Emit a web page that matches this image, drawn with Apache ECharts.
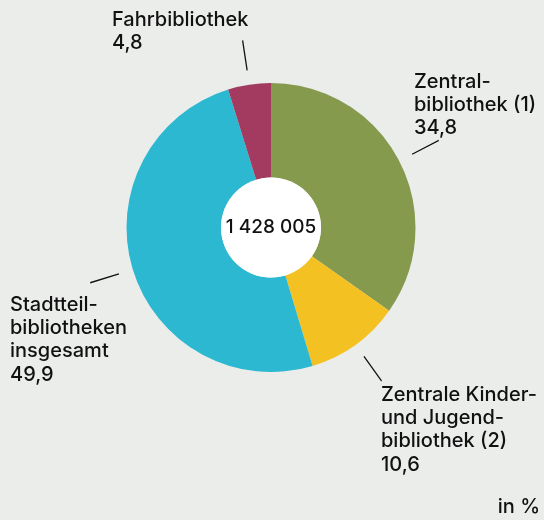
<!DOCTYPE html>
<html><head><meta charset="utf-8">
<script src="https://cdn.jsdelivr.net/npm/echarts@6/dist/echarts.min.js"></script>
<style>html,body{margin:0;padding:0;background:#ebedeb;}#c{width:544px;height:520px;}</style>
</head><body><div id="c"></div>
<script>
// ---- data ----
const categories = ['Zentral-\nbibliothek (1)', 'Zentrale Kinder-\nund Jugend-\nbibliothek (2)', 'Stadtteil-\nbibliotheken\ninsgesamt', 'Fahrbibliothek'];
const shares = [34.8, 10.6, 49.9, 4.8];
const totalText = '1 428 005';
const unitText = 'in %';

// ---- styling / layout ----
const colors = ['#869a4e', '#f4c122', '#2db8d1', '#a33a5f'];
const labelAnchors = [[414, 70], [381, 383], [10, 293], [112, 8]];
const FONT = 'Inter, "Liberation Sans", Arial, sans-serif';
const FS = 20, LH = 23.3, FW = 500;
const center = [271, 227.5];

const fmt = v => v.toFixed(1).replace('.', ',');
const pieData = categories.map((c, i) => ({ name: c, value: shares[i], itemStyle: { color: colors[i] } }));

const chart = echarts.init(document.getElementById('c'), null, { renderer: 'canvas' });
chart.setOption({
  backgroundColor: '#ebedeb',
  animation: false,
  series: [
    {
      type: 'pie', center: center, radius: [0, 159], startAngle: 90, clockwise: true,
      silent: true, avoidLabelOverlap: false, z: 1,
      data: categories.map((c, i) => ({ name: c, value: shares[i] })),
      itemStyle: { color: 'rgba(0,0,0,0)', borderWidth: 0 },
      label: { show: true, formatter: ' ', fontSize: 1 },
      labelLine: { show: true, length: 30, length2: 0.01, lineStyle: { color: '#111', width: 1.3 } },
      emphasis: { disabled: true }
    },
    {
      type: 'pie', center: center, radius: [50, 144.5], startAngle: 90, clockwise: true,
      silent: true, z: 2,
      data: pieData,
      itemStyle: { borderWidth: 0 },
      label: { show: false }, labelLine: { show: false },
      emphasis: { disabled: true }
    },
    {
      type: 'pie', center: center, radius: [0, 50], silent: true, z: 3,
      data: [{ name: 'total', value: 1 }],
      itemStyle: { color: '#ffffff', borderWidth: 0 },
      label: { show: true, position: 'center', formatter: totalText, fontSize: 19, fontWeight: FW, fontFamily: FONT, color: '#111' },
      labelLine: { show: false },
      emphasis: { disabled: true }
    }
  ],
  graphic: categories.map((c, i) => ({
    type: 'text', x: labelAnchors[i][0], y: labelAnchors[i][1], silent: true,
    style: { text: c + '\n' + fmt(shares[i]), fontSize: FS, fontWeight: FW, fontFamily: FONT, lineHeight: LH, fill: '#111', verticalAlign: 'top', align: 'left' }
  })).concat([{
    type: 'text', x: 540, y: 497, silent: true,
    style: { text: unitText, fontSize: FS, fontWeight: FW, fontFamily: FONT, fill: '#111', verticalAlign: 'top', align: 'right' }
  }])
});
</script></body></html>
